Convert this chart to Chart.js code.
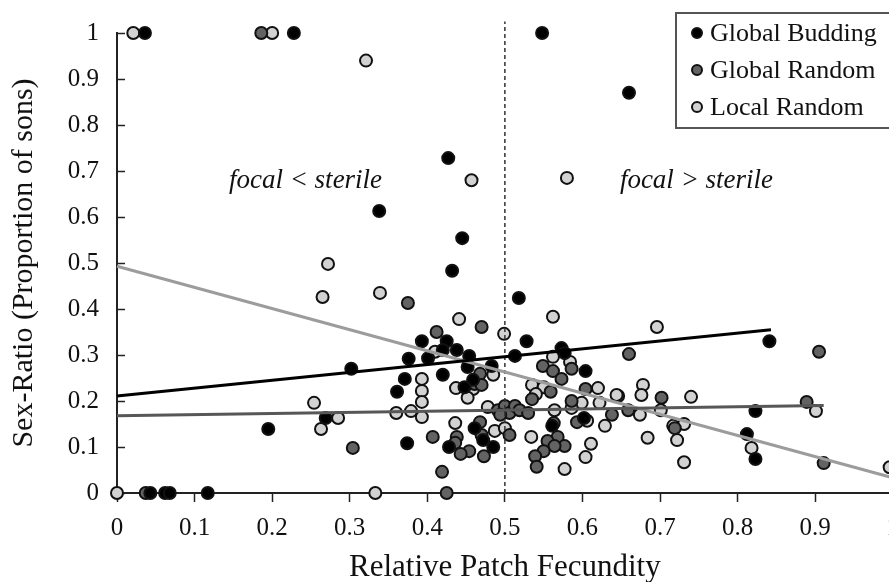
<!DOCTYPE html>
<html>
<head>
<meta charset="utf-8">
<script src="https://cdn.jsdelivr.net/npm/chart.js@4.4.1/dist/chart.umd.min.js"></script>
<style>
  html, body { margin: 0; padding: 0; background: #fff; overflow: hidden; }
  #wrap { width: 910px; height: 582px; position: relative; }
</style>
</head>
<body>
<div id="wrap"><canvas id="chart"></canvas></div>
<script>
// punkty [x, y]
const globalBudding = [
  [0.036, 1], [0.228, 1], [0.548, 1], [0.660, 0.870], [0.427, 0.728], [0.338, 0.613],
  [0.445, 0.554], [0.432, 0.483], [0.518, 0.424], [0.528, 0.330], [0.841, 0.330],
  [0.393, 0.330], [0.425, 0.330], [0.420, 0.311], [0.438, 0.311], [0.454, 0.298],
  [0.401, 0.293], [0.376, 0.292], [0.302, 0.270], [0.371, 0.248], [0.361, 0.220],
  [0.269, 0.163], [0.195, 0.139], [0.374, 0.108], [0.452, 0.274], [0.483, 0.276],
  [0.513, 0.298], [0.420, 0.257], [0.459, 0.246], [0.448, 0.230], [0.461, 0.141],
  [0.472, 0.115], [0.428, 0.100], [0.485, 0.100], [0.573, 0.315], [0.577, 0.304],
  [0.604, 0.265], [0.602, 0.163], [0.561, 0.146], [0.823, 0.178], [0.812, 0.128],
  [0.823, 0.074], [0.043, 0], [0.062, 0], [0.068, 0], [0.117, 0]
];
const globalRandom = [
  [0.186, 1], [0.375, 0.413], [0.304, 0.098], [0.470, 0.361], [0.412, 0.350],
  [0.468, 0.259], [0.461, 0.237], [0.470, 0.235], [0.491, 0.180], [0.500, 0.189],
  [0.506, 0.174], [0.513, 0.189], [0.494, 0.170], [0.468, 0.154], [0.470, 0.126],
  [0.506, 0.126], [0.438, 0.122], [0.407, 0.122], [0.436, 0.109], [0.454, 0.091],
  [0.443, 0.085], [0.473, 0.080], [0.419, 0.046], [0.425, 0], [0.586, 0.270],
  [0.549, 0.276], [0.562, 0.265], [0.573, 0.248], [0.559, 0.220], [0.535, 0.204],
  [0.604, 0.226], [0.586, 0.200], [0.638, 0.170], [0.519, 0.180], [0.530, 0.174],
  [0.593, 0.154], [0.563, 0.152], [0.568, 0.122], [0.555, 0.113], [0.577, 0.102],
  [0.564, 0.102], [0.550, 0.091], [0.539, 0.080], [0.541, 0.057], [0.660, 0.302],
  [0.702, 0.207], [0.659, 0.180], [0.889, 0.198], [0.719, 0.141], [0.905, 0.307],
  [0.911, 0.065], [0.037, 0]
];
const localRandom = [
  [0.021, 1], [0.200, 1], [0.321, 0.940], [0.457, 0.680], [0.580, 0.685],
  [0.272, 0.498], [0.265, 0.426], [0.339, 0.435], [0.254, 0.196], [0.285, 0.163],
  [0.263, 0.139], [0.360, 0.174], [0.379, 0.178], [0.393, 0.248], [0.393, 0.222],
  [0.393, 0.198], [0.393, 0.165], [0.441, 0.378], [0.499, 0.346], [0.410, 0.307],
  [0.485, 0.257], [0.437, 0.228], [0.459, 0.226], [0.452, 0.207], [0.478, 0.187],
  [0.436, 0.152], [0.487, 0.135], [0.500, 0.141], [0.562, 0.383], [0.562, 0.296],
  [0.584, 0.285], [0.535, 0.235], [0.550, 0.230], [0.540, 0.215], [0.620, 0.228],
  [0.646, 0.211], [0.599, 0.196], [0.586, 0.185], [0.622, 0.196], [0.564, 0.180],
  [0.606, 0.157], [0.629, 0.146], [0.534, 0.122], [0.611, 0.107], [0.604, 0.078],
  [0.577, 0.052], [0.696, 0.361], [0.678, 0.235], [0.676, 0.213], [0.740, 0.209],
  [0.674, 0.170], [0.701, 0.180], [0.901, 0.178], [0.717, 0.146], [0.731, 0.150],
  [0.684, 0.120], [0.722, 0.115], [0.731, 0.067], [0.818, 0.098], [0.996, 0.056],
  [0.644, 0.213], [0.0, 0], [0.333, 0]
];

// linie trendu: [x, y] poczatek i koniec
const fitBudding = [[0, 0.211], [0.843, 0.355]];
const fitRandom = [[0, 0.168], [0.911, 0.190]];
const fitLocal = [[0, 0.493], [1, 0.033]];
const splitLine = [[0.5, 0], [0.5, 1.025]];

const seriesLabels = ['Global Budding', 'Global Random', 'Local Random'];
const sideLabels = ['focal < sterile', 'focal > sterile'];

const SERIF = "'Liberation Serif', 'DejaVu Serif', serif";
const toXY = arr => arr.map(p => ({ x: p[0], y: p[1] }));
const tickText = v => String(Math.round(v * 10) / 10); // 0, 0.1 ... 1

function pointSet(label, pts, fill) {
  return {
    type: 'scatter', label: label, data: toXY(pts),
    backgroundColor: fill, borderColor: '#111', borderWidth: 2,
    pointRadius: 6, pointHoverRadius: 6, clip: false, order: 2
  };
}
function lineSet(pts, color, width, dash) {
  return {
    type: 'line', data: toXY(pts), borderColor: color, borderWidth: width,
    borderDash: dash || [], pointRadius: 0, fill: false, clip: false, order: 1
  };
}

// kreski podzialki osi Y do srodka
const insideTicks = {
  id: 'insideTicks',
  beforeDatasetsDraw(chart) {
    const { ctx, scales: { y } } = chart;
    ctx.save();
    ctx.strokeStyle = '#222';
    ctx.lineWidth = 1.5;
    y.ticks.forEach(t => {
      const py = Math.round(y.getPixelForValue(t.value)) + 0.5;
      ctx.beginPath();
      ctx.moveTo(y.right, py);
      ctx.lineTo(y.right + 8, py);
      ctx.stroke();
    });
    ctx.restore();
  }
};

// legenda w ramce + napisy
const boxLegend = {
  id: 'boxLegend',
  afterDraw(chart) {
    const { ctx, scales: { x, y } } = chart;
    ctx.save();
    ctx.strokeStyle = '#555';
    ctx.lineWidth = 2;
    ctx.strokeRect(676, 13, 250, 115);
    const rows = [33, 70, 107];
    ctx.font = '26px ' + SERIF;
    ctx.textBaseline = 'middle';
    ctx.textAlign = 'left';
    chart.data.datasets.slice(0, 3).forEach((ds, i) => {
      ctx.beginPath();
      ctx.arc(697, rows[i], 5, 0, Math.PI * 2);
      ctx.fillStyle = ds.backgroundColor;
      ctx.fill();
      ctx.lineWidth = 2;
      ctx.strokeStyle = '#111';
      ctx.stroke();
      ctx.fillStyle = '#111';
      ctx.fillText(ds.label, 710, rows[i] + 1);
    });
    ctx.font = 'italic 27px ' + SERIF;
    ctx.textAlign = 'center';
    ctx.fillText(sideLabels[0], x.getPixelForValue(0.243), y.getPixelForValue(0.678));
    ctx.fillText(sideLabels[1], x.getPixelForValue(0.747), y.getPixelForValue(0.678));
    ctx.restore();
  }
};

new Chart(document.getElementById('chart'), {
  data: {
    datasets: [
      pointSet(seriesLabels[0], globalBudding, '#000000'),
      pointSet(seriesLabels[1], globalRandom, '#636363'),
      pointSet(seriesLabels[2], localRandom, '#d2d2d2'),
      lineSet(fitBudding, '#000000', 3),
      lineSet(fitRandom, '#575757', 3),
      lineSet(fitLocal, '#9c9c9c', 3),
      lineSet(splitLine, '#333333', 1.5, [4, 3])
    ]
  },
  options: {
    responsive: true,
    maintainAspectRatio: false,
    animation: false,
    layout: { padding: { top: 33, right: 0, bottom: 0, left: 0 } },
    plugins: { legend: { display: false }, tooltip: { enabled: false } },
    scales: {
      x: {
        type: 'linear', min: 0, max: 1,
        afterFit: s => { s.height = 89; },
        border: { color: '#222', width: 2 },
        grid: { drawOnChartArea: false, tickLength: 9, tickColor: '#222', tickWidth: 1.5 },
        ticks: { stepSize: 0.1, color: '#111', padding: 11, callback: tickText,
                 font: { family: SERIF, size: 25 } },
        title: {
          display: true, text: 'Relative Patch Fecundity', color: '#111',
          font: { family: SERIF, size: 31, lineHeight: 0.9 }, padding: 0
        }
      },
      y: {
        type: 'linear', min: 0, max: 1,
        afterFit: s => { s.width = 117; },
        border: { color: '#222', width: 2 },
        grid: { drawOnChartArea: false, drawTicks: false },
        ticks: { stepSize: 0.1, color: '#111', padding: 18, callback: tickText,
                 font: { family: SERIF, size: 25 } },
        title: {
          display: true, text: 'Sex-Ratio (Proportion of sons)', color: '#111',
          font: { family: SERIF, size: 30, lineHeight: 1.2 }, padding: { top: 6, bottom: 0 }
        }
      }
    }
  },
  plugins: [insideTicks, boxLegend]
});
</script>
</body>
</html>
